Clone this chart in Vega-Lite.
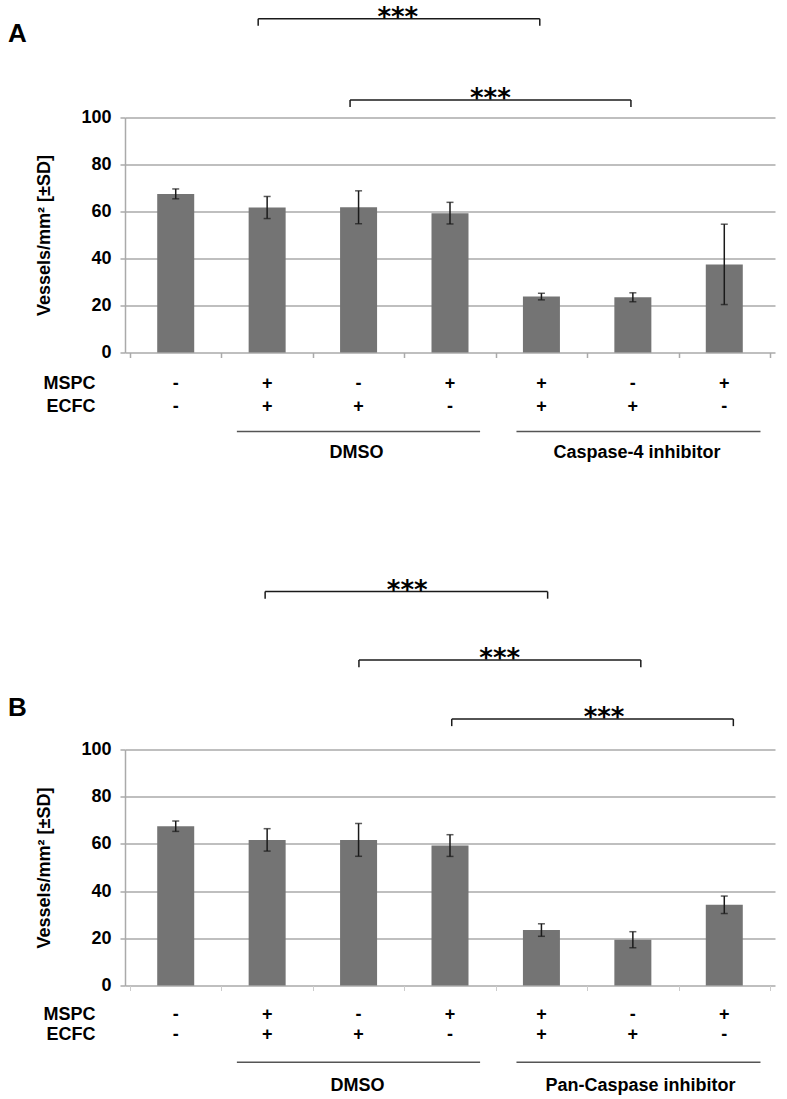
{
  "$schema": "https://vega.github.io/schema/vega-lite/v6.json",
  "padding": {"left": 7, "top": 4.5, "right": 5, "bottom": 5},
  "bounds": "flush",
  "spacing": 397,
  "config": {
    "font": "Liberation Sans",
    "view": {"stroke": null},
    "text": {"font": "Liberation Sans", "color": "#000000"}
  },
  "datasets": {
    "table": [
      {"pos": 1, "mspc": "-", "ecfc": "-"},
      {"pos": 2, "mspc": "+", "ecfc": "+"},
      {"pos": 3, "mspc": "-", "ecfc": "+"},
      {"pos": 4, "mspc": "+", "ecfc": "-"},
      {"pos": 5, "mspc": "+", "ecfc": "+"},
      {"pos": 6, "mspc": "-", "ecfc": "+"},
      {"pos": 7, "mspc": "+", "ecfc": "-"}
    ],
    "rowlabels": [{"label": "MSPC"}],
    "rowlabels2": [{"label": "ECFC"}],
    "barsA": [
      {"pos": 1, "mean": 67.5, "sd": 2.1},
      {"pos": 2, "mean": 61.7, "sd": 4.7},
      {"pos": 3, "mean": 61.8, "sd": 7.0},
      {"pos": 4, "mean": 59.3, "sd": 4.6},
      {"pos": 5, "mean": 23.8, "sd": 1.4},
      {"pos": 6, "mean": 23.5, "sd": 1.9},
      {"pos": 7, "mean": 37.5, "sd": 17.1}
    ],
    "barsB": [
      {"pos": 1, "mean": 67.5, "sd": 2.2},
      {"pos": 2, "mean": 61.7, "sd": 4.75},
      {"pos": 3, "mean": 61.7, "sd": 6.95},
      {"pos": 4, "mean": 59.3, "sd": 4.6},
      {"pos": 5, "mean": 23.5, "sd": 2.65},
      {"pos": 6, "mean": 19.4, "sd": 3.4},
      {"pos": 7, "mean": 34.2, "sd": 3.7}
    ],
    "bracketsA": [
      {"from": 1.902, "to": 4.982, "mid": 3.429, "level": 142.0, "low": 139.0, "stars": "***"},
      {"from": 2.907, "to": 5.979, "mid": 4.442, "level": 107.5, "low": 104.5, "stars": "***"}
    ],
    "bracketsB": [
      {"from": 1.978, "to": 5.068, "mid": 3.532, "level": 166.9, "low": 163.9, "stars": "***"},
      {"from": 3.004, "to": 6.087, "mid": 4.544, "level": 137.9, "low": 134.9, "stars": "***"},
      {"from": 4.019, "to": 7.099, "mid": 5.685, "level": 112.9, "low": 109.9, "stars": "***"}
    ],
    "groupsA": [
      {"group": "DMSO", "from": 1.669, "to": 4.329, "mid": 2.977},
      {"group": "Caspase-4 inhibitor", "from": 4.727, "to": 7.396, "mid": 6.046}
    ],
    "groupsB": [
      {"group": "DMSO", "from": 1.669, "to": 4.329, "mid": 2.988},
      {"group": "Pan-Caspase inhibitor", "from": 4.727, "to": 7.396, "mid": 6.084}
    ],
    "letterA": [{"p": "A"}],
    "letterB": [{"p": "B"}]
  },
  "vconcat": [
    {
      "width": 650,
      "height": 235,
      "layer": [
        {
          "data": {"name": "barsA"},
          "mark": {"type": "bar", "width": 37, "color": "#747474"},
          "encoding": {
            "x": {"field": "pos", "type": "quantitative", "scale": {"domain": [0.5, 7.5], "nice": false, "zero": false},
              "axis": {"values": [0.5, 1.5, 2.5, 3.5, 4.5, 5.5, 6.5, 7.5], "labels": false, "title": null, "grid": false, "domain": false, "ticks": true, "tickSize": 5, "tickColor": "#aaaaaa", "tickWidth": 1.5}},
            "y": {"field": "mean", "type": "quantitative", "title": "Vessels/mm² [±SD]", "scale": {"domain": [0, 100], "nice": false},
              "axis": {"values": [0, 20, 40, 60, 80, 100], "titleFont": "Liberation Sans", "titleFontSize": 18, "titleFontWeight": "bold", "titleColor": "#000000", "titlePadding": 27,
                "labelFont": "Liberation Sans", "labelFontSize": 18, "labelFontWeight": "bold", "labelColor": "#000000", "labelPadding": 9,
                "grid": true, "gridColor": "#aaaaaa", "gridWidth": 1.5, "domain": true, "domainColor": "#aaaaaa", "domainWidth": 1.5, "ticks": true, "tickSize": 5, "tickColor": "#aaaaaa", "tickWidth": 1.5}}
          }
        },
        {
          "data": {"name": "barsA"},
          "mark": {"type": "errorbar", "ticks": {"size": 7, "thickness": 1.5}, "thickness": 1.5, "color": "#1a1a1a"},
          "encoding": {
            "x": {"field": "pos", "type": "quantitative", "scale": {"domain": [0.5, 7.5], "nice": false, "zero": false}},
            "y": {"field": "mean", "type": "quantitative", "title": "Vessels/mm² [±SD]", "scale": {"domain": [0, 100], "nice": false}},
            "yError": {"field": "sd"}
          }
        },
        {
          "data": {"name": "bracketsA"},
          "mark": {"type": "rule", "color": "#1a1a1a", "strokeWidth": 1.5},
          "encoding": {
            "x": {"field": "from", "type": "quantitative", "scale": {"domain": [0.5, 7.5], "nice": false, "zero": false}},
            "x2": {"field": "to"},
            "y": {"field": "level", "type": "quantitative", "scale": {"domain": [0, 100], "nice": false}}
          }
        },
        {
          "data": {"name": "bracketsA"},
          "mark": {"type": "rule", "color": "#1a1a1a", "strokeWidth": 1.5},
          "encoding": {
            "x": {"field": "from", "type": "quantitative", "scale": {"domain": [0.5, 7.5], "nice": false, "zero": false}},
            "y": {"field": "level", "type": "quantitative", "scale": {"domain": [0, 100], "nice": false}},
            "y2": {"field": "low"}
          }
        },
        {
          "data": {"name": "bracketsA"},
          "mark": {"type": "rule", "color": "#1a1a1a", "strokeWidth": 1.5},
          "encoding": {
            "x": {"field": "to", "type": "quantitative", "scale": {"domain": [0.5, 7.5], "nice": false, "zero": false}},
            "y": {"field": "level", "type": "quantitative", "scale": {"domain": [0, 100], "nice": false}},
            "y2": {"field": "low"}
          }
        },
        {
          "data": {"name": "bracketsA"},
          "mark": {"type": "text", "font": "DejaVu Sans", "fontSize": 26, "fontWeight": "bold", "baseline": "alphabetic", "align": "center", "dy": 7, "color": "#000000"},
          "encoding": {
            "x": {"field": "mid", "type": "quantitative", "scale": {"domain": [0.5, 7.5], "nice": false, "zero": false}},
            "y": {"field": "level", "type": "quantitative", "scale": {"domain": [0, 100], "nice": false}},
            "text": {"field": "stars"}
          }
        },
        {
          "data": {"name": "table"},
          "mark": {"type": "text", "fontSize": 18, "fontWeight": "bold", "baseline": "alphabetic", "align": "center"},
          "encoding": {
            "x": {"field": "pos", "type": "quantitative", "scale": {"domain": [0.5, 7.5], "nice": false, "zero": false}},
            "y": {"datum": -15.7, "type": "quantitative", "scale": {"domain": [0, 100], "nice": false}},
            "text": {"field": "mspc"}
          }
        },
        {
          "data": {"name": "table"},
          "mark": {"type": "text", "fontSize": 18, "fontWeight": "bold", "baseline": "alphabetic", "align": "center"},
          "encoding": {
            "x": {"field": "pos", "type": "quantitative", "scale": {"domain": [0.5, 7.5], "nice": false, "zero": false}},
            "y": {"datum": -25.5, "type": "quantitative", "scale": {"domain": [0, 100], "nice": false}},
            "text": {"field": "ecfc"}
          }
        },
        {
          "data": {"name": "rowlabels"},
          "mark": {"type": "text", "fontSize": 18, "fontWeight": "bold", "baseline": "alphabetic", "align": "right"},
          "encoding": {
            "x": {"datum": 0.123, "type": "quantitative", "scale": {"domain": [0.5, 7.5], "nice": false, "zero": false}},
            "y": {"datum": -15.7, "type": "quantitative", "scale": {"domain": [0, 100], "nice": false}},
            "text": {"field": "label"}
          }
        },
        {
          "data": {"name": "rowlabels2"},
          "mark": {"type": "text", "fontSize": 18, "fontWeight": "bold", "baseline": "alphabetic", "align": "right"},
          "encoding": {
            "x": {"datum": 0.123, "type": "quantitative", "scale": {"domain": [0.5, 7.5], "nice": false, "zero": false}},
            "y": {"datum": -25.5, "type": "quantitative", "scale": {"domain": [0, 100], "nice": false}},
            "text": {"field": "label"}
          }
        },
        {
          "data": {"name": "groupsA"},
          "mark": {"type": "rule", "color": "#555555", "strokeWidth": 1.5},
          "encoding": {
            "x": {"field": "from", "type": "quantitative", "scale": {"domain": [0.5, 7.5], "nice": false, "zero": false}},
            "x2": {"field": "to"},
            "y": {"datum": -33.6, "type": "quantitative", "scale": {"domain": [0, 100], "nice": false}}
          }
        },
        {
          "data": {"name": "groupsA"},
          "mark": {"type": "text", "fontSize": 18, "fontWeight": "bold", "baseline": "alphabetic", "align": "center"},
          "encoding": {
            "x": {"field": "mid", "type": "quantitative", "scale": {"domain": [0.5, 7.5], "nice": false, "zero": false}},
            "y": {"datum": -45.1, "type": "quantitative", "scale": {"domain": [0, 100], "nice": false}},
            "text": {"field": "group"}
          }
        },
        {
          "data": {"name": "letterA"},
          "mark": {"type": "text", "fontSize": 26, "fontWeight": "bold", "baseline": "alphabetic", "align": "left"},
          "encoding": {
            "x": {"datum": -0.835, "type": "quantitative", "scale": {"domain": [0.5, 7.5], "nice": false, "zero": false}},
            "y": {"datum": 132.0, "type": "quantitative", "scale": {"domain": [0, 100], "nice": false}},
            "text": {"field": "p"}
          }
        }
      ]
    },
    {
      "width": 650,
      "height": 236,
      "layer": [
        {
          "data": {"name": "barsB"},
          "mark": {"type": "bar", "width": 37, "color": "#747474"},
          "encoding": {
            "x": {"field": "pos", "type": "quantitative", "scale": {"domain": [0.5, 7.5], "nice": false, "zero": false},
              "axis": {"values": [0.5, 1.5, 2.5, 3.5, 4.5, 5.5, 6.5, 7.5], "labels": false, "title": null, "grid": false, "domain": false, "ticks": true, "tickSize": 5, "tickColor": "#cccccc", "tickWidth": 1}},
            "y": {"field": "mean", "type": "quantitative", "title": "Vessels/mm² [±SD]", "scale": {"domain": [0, 100], "nice": false},
              "axis": {"values": [0, 20, 40, 60, 80, 100], "titleFont": "Liberation Sans", "titleFontSize": 18, "titleFontWeight": "bold", "titleColor": "#000000", "titlePadding": 27,
                "labelFont": "Liberation Sans", "labelFontSize": 18, "labelFontWeight": "bold", "labelColor": "#000000", "labelPadding": 9,
                "grid": true, "gridColor": "#aaaaaa", "gridWidth": 1.5, "domain": true, "domainColor": "#aaaaaa", "domainWidth": 1.5, "ticks": true, "tickSize": 5, "tickColor": "#aaaaaa", "tickWidth": 1.5}}
          }
        },
        {
          "data": {"name": "barsB"},
          "mark": {"type": "errorbar", "ticks": {"size": 7, "thickness": 1.5}, "thickness": 1.5, "color": "#1a1a1a"},
          "encoding": {
            "x": {"field": "pos", "type": "quantitative", "scale": {"domain": [0.5, 7.5], "nice": false, "zero": false}},
            "y": {"field": "mean", "type": "quantitative", "title": "Vessels/mm² [±SD]", "scale": {"domain": [0, 100], "nice": false}},
            "yError": {"field": "sd"}
          }
        },
        {
          "data": {"name": "bracketsB"},
          "mark": {"type": "rule", "color": "#1a1a1a", "strokeWidth": 1.5},
          "encoding": {
            "x": {"field": "from", "type": "quantitative", "scale": {"domain": [0.5, 7.5], "nice": false, "zero": false}},
            "x2": {"field": "to"},
            "y": {"field": "level", "type": "quantitative", "scale": {"domain": [0, 100], "nice": false}}
          }
        },
        {
          "data": {"name": "bracketsB"},
          "mark": {"type": "rule", "color": "#1a1a1a", "strokeWidth": 1.5},
          "encoding": {
            "x": {"field": "from", "type": "quantitative", "scale": {"domain": [0.5, 7.5], "nice": false, "zero": false}},
            "y": {"field": "level", "type": "quantitative", "scale": {"domain": [0, 100], "nice": false}},
            "y2": {"field": "low"}
          }
        },
        {
          "data": {"name": "bracketsB"},
          "mark": {"type": "rule", "color": "#1a1a1a", "strokeWidth": 1.5},
          "encoding": {
            "x": {"field": "to", "type": "quantitative", "scale": {"domain": [0.5, 7.5], "nice": false, "zero": false}},
            "y": {"field": "level", "type": "quantitative", "scale": {"domain": [0, 100], "nice": false}},
            "y2": {"field": "low"}
          }
        },
        {
          "data": {"name": "bracketsB"},
          "mark": {"type": "text", "font": "DejaVu Sans", "fontSize": 26, "fontWeight": "bold", "baseline": "alphabetic", "align": "center", "dy": 7, "color": "#000000"},
          "encoding": {
            "x": {"field": "mid", "type": "quantitative", "scale": {"domain": [0.5, 7.5], "nice": false, "zero": false}},
            "y": {"field": "level", "type": "quantitative", "scale": {"domain": [0, 100], "nice": false}},
            "text": {"field": "stars"}
          }
        },
        {
          "data": {"name": "table"},
          "mark": {"type": "text", "fontSize": 18, "fontWeight": "bold", "baseline": "alphabetic", "align": "center"},
          "encoding": {
            "x": {"field": "pos", "type": "quantitative", "scale": {"domain": [0.5, 7.5], "nice": false, "zero": false}},
            "y": {"datum": -14.55, "type": "quantitative", "scale": {"domain": [0, 100], "nice": false}},
            "text": {"field": "mspc"}
          }
        },
        {
          "data": {"name": "table"},
          "mark": {"type": "text", "fontSize": 18, "fontWeight": "bold", "baseline": "alphabetic", "align": "center"},
          "encoding": {
            "x": {"field": "pos", "type": "quantitative", "scale": {"domain": [0.5, 7.5], "nice": false, "zero": false}},
            "y": {"datum": -23.3, "type": "quantitative", "scale": {"domain": [0, 100], "nice": false}},
            "text": {"field": "ecfc"}
          }
        },
        {
          "data": {"name": "rowlabels"},
          "mark": {"type": "text", "fontSize": 18, "fontWeight": "bold", "baseline": "alphabetic", "align": "right"},
          "encoding": {
            "x": {"datum": 0.123, "type": "quantitative", "scale": {"domain": [0.5, 7.5], "nice": false, "zero": false}},
            "y": {"datum": -14.55, "type": "quantitative", "scale": {"domain": [0, 100], "nice": false}},
            "text": {"field": "label"}
          }
        },
        {
          "data": {"name": "rowlabels2"},
          "mark": {"type": "text", "fontSize": 18, "fontWeight": "bold", "baseline": "alphabetic", "align": "right"},
          "encoding": {
            "x": {"datum": 0.123, "type": "quantitative", "scale": {"domain": [0.5, 7.5], "nice": false, "zero": false}},
            "y": {"datum": -23.3, "type": "quantitative", "scale": {"domain": [0, 100], "nice": false}},
            "text": {"field": "label"}
          }
        },
        {
          "data": {"name": "groupsB"},
          "mark": {"type": "rule", "color": "#555555", "strokeWidth": 1.5},
          "encoding": {
            "x": {"field": "from", "type": "quantitative", "scale": {"domain": [0.5, 7.5], "nice": false, "zero": false}},
            "x2": {"field": "to"},
            "y": {"datum": -32.5, "type": "quantitative", "scale": {"domain": [0, 100], "nice": false}}
          }
        },
        {
          "data": {"name": "groupsB"},
          "mark": {"type": "text", "fontSize": 18, "fontWeight": "bold", "baseline": "alphabetic", "align": "center"},
          "encoding": {
            "x": {"field": "mid", "type": "quantitative", "scale": {"domain": [0.5, 7.5], "nice": false, "zero": false}},
            "y": {"datum": -44.5, "type": "quantitative", "scale": {"domain": [0, 100], "nice": false}},
            "text": {"field": "group"}
          }
        },
        {
          "data": {"name": "letterB"},
          "mark": {"type": "text", "fontSize": 26, "fontWeight": "bold", "baseline": "alphabetic", "align": "left"},
          "encoding": {
            "x": {"datum": -0.835, "type": "quantitative", "scale": {"domain": [0.5, 7.5], "nice": false, "zero": false}},
            "y": {"datum": 114.1, "type": "quantitative", "scale": {"domain": [0, 100], "nice": false}},
            "text": {"field": "p"}
          }
        }
      ]
    }
  ]
}
